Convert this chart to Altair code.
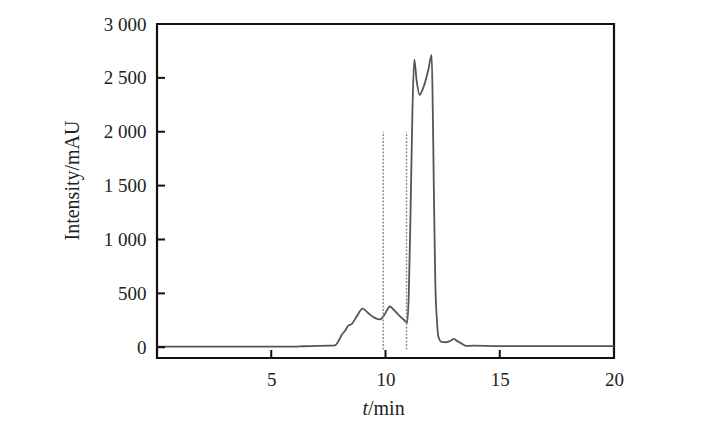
import altair as alt
import pandas as pd

# Chromatogram trace
times = [0, 2, 4, 6.0, 6.4, 7.0, 7.5, 7.79, 7.95, 8.1, 8.22, 8.37, 8.52, 8.75, 9.0, 9.15, 9.32,
         9.55, 9.76, 9.95, 10.19, 10.35, 10.56, 10.8, 10.95, 11.02, 11.1, 11.18, 11.26, 11.36,
         11.5, 11.6, 11.72, 11.88, 12.02, 12.07, 12.12, 12.18, 12.25, 12.31, 12.45, 12.67,
         12.85, 12.99, 13.15, 13.3, 13.55, 13.84, 15, 17, 20]
intensity = [5, 5, 5, 6, 9, 12, 15, 18, 60, 120, 150, 200, 215, 290, 358, 335, 303,
             270, 258, 300, 378, 350, 303, 255, 228, 500, 1300, 2200, 2672, 2480,
             2342, 2380, 2450, 2580, 2713, 2200, 1400, 600, 250, 102, 50, 46,
             60, 78, 55, 38, 12, 14, 10, 10, 10]

marker_times = [9.9, 10.92]
marker_low = [-20, -20]
marker_high = [2000, 2000]

x_ticks = [5, 10, 15, 20]
y_ticks = [0, 500, 1000, 1500, 2000, 2500, 3000]

W, H = 457, 334
X_DOM = [0, 20]
Y_DOM = [-100, 3000]
FONT = "Liberation Serif"
TICK = 8  # inward tick length in px

trace = pd.DataFrame({"t": times, "I": intensity})
markers = pd.DataFrame({"t": marker_times, "lo": marker_low, "hi": marker_high})

# inward tick lengths converted to data units
ytick_len = TICK * (Y_DOM[1] - Y_DOM[0]) / H
xtick_len = TICK * (X_DOM[1] - X_DOM[0]) / W
xt = pd.DataFrame({"t": x_ticks, "a": [Y_DOM[0]] * len(x_ticks),
                   "b": [Y_DOM[0] + ytick_len] * len(x_ticks)})
yt = pd.DataFrame({"I": y_ticks, "a": [X_DOM[0]] * len(y_ticks),
                   "b": [X_DOM[0] + xtick_len] * len(y_ticks)})

xscale = alt.Scale(domain=X_DOM, nice=False, zero=False)
yscale = alt.Scale(domain=Y_DOM, nice=False, zero=False)

x_axis = alt.Axis(values=x_ticks, ticks=False, domain=False, grid=False,
                  labelFont=FONT, labelFontSize=19, labelColor="#222",
                  labelPadding=12, title=None, labelFlush=False)
y_axis = alt.Axis(values=y_ticks, ticks=False, domain=False, grid=False,
                  labelFont=FONT, labelFontSize=19, labelColor="#222",
                  labelPadding=11, labelFlush=False,
                  labelExpr="replace(format(datum.value, ','), ',', ' ')",
                  title="Intensity/mAU", titleFont=FONT, titleFontSize=20,
                  titleFontWeight="normal", titleColor="#222",
                  titleX=-85, titleY=156, titleAlign="center", titleBaseline="middle")

line = alt.Chart(trace).mark_line(color="#555555", strokeWidth=1.8,
                                  interpolate="monotone").encode(
    x=alt.X("t:Q", scale=xscale, axis=x_axis),
    y=alt.Y("I:Q", scale=yscale, axis=y_axis),
)

dash = alt.Chart(markers).mark_rule(color="#8a8a8a", strokeWidth=1.4,
                                    strokeDash=[2, 1.5]).encode(
    x="t:Q", y="lo:Q", y2="hi:Q"
)

xtick = alt.Chart(xt).mark_rule(color="#111111", strokeWidth=2).encode(
    x="t:Q", y="a:Q", y2="b:Q"
)
ytick = alt.Chart(yt).mark_rule(color="#111111", strokeWidth=2).encode(
    y="I:Q", x="a:Q", x2="b:Q"
)

title_t = alt.Chart(pd.DataFrame({"s": ["t"]})).mark_text(
    font=FONT, fontSize=20, fontStyle="italic", align="right", baseline="alphabetic",
    color="#222"
).encode(text="s:N", x=alt.value(211), y=alt.value(391))
title_min = alt.Chart(pd.DataFrame({"s": ["/min"]})).mark_text(
    font=FONT, fontSize=20, align="left", baseline="alphabetic", color="#222"
).encode(text="s:N", x=alt.value(211), y=alt.value(391))

chart = alt.layer(line, dash, xtick, ytick, title_t, title_min).properties(
    width=W, height=H,
    autosize=alt.AutoSizeParams(type="none"),
    padding={"left": 149, "top": 16, "right": 40, "bottom": 60},
).configure(
    background="white",
    view=alt.ViewConfig(stroke="#111111", strokeWidth=2.2),
)

chart.save("out.html", embed_options={"renderer": "svg", "actions": False})
